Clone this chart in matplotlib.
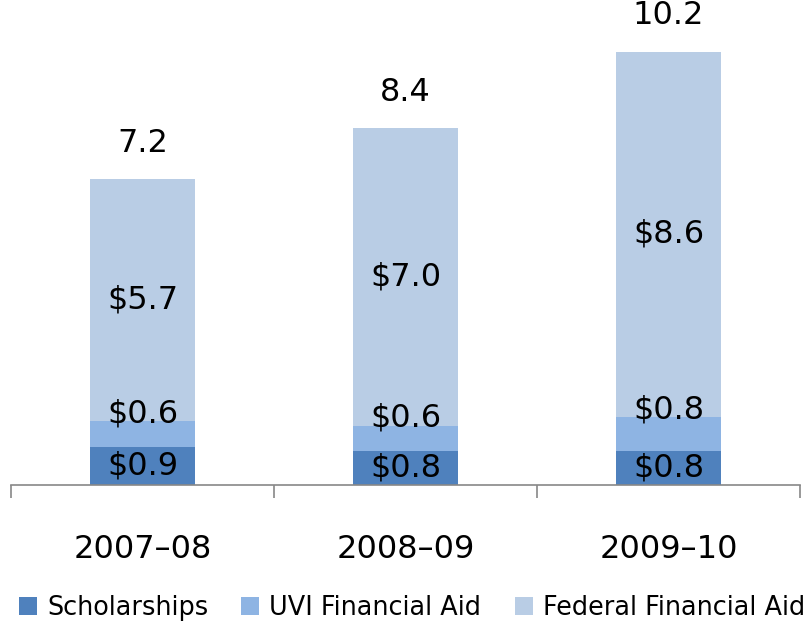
import numpy as np
import matplotlib.pyplot as plt

# aid by year, $ millions
years = ['2007–08', '2008–09', '2009–10']
scholarships = [0.9, 0.8, 0.8]
uvi_aid = [0.6, 0.6, 0.8]
federal_aid = [5.7, 7.0, 8.6]
totals = ['7.2', '8.4', '10.2']

series_names = ['Scholarships', 'UVI Financial Aid', 'Federal Financial Aid']
colors = ['#4F81BD', '#8EB4E3', '#B9CDE5']

fig = plt.figure(figsize=(8.11, 6.21), dpi=100)
ax = fig.add_axes([11 / 811, 136 / 621, 789 / 811, 485 / 621])

x = np.arange(len(years))
bottom = np.zeros(len(years))
for k, (vals, name, c) in enumerate(zip([scholarships, uvi_aid, federal_aid], series_names, colors)):
    vals = np.array(vals)
    ax.bar(x, vals, 0.4, bottom=bottom, color=c, label=name)
    for xi, b, v in zip(x, bottom, vals):
        # the small UVI labels sit on the top edge of their segment
        ypos = b + v + 0.17 if k == 1 else b + v / 2
        ax.text(xi, ypos, '${:.1f}'.format(v), ha='center', va='center',
                fontsize=23, color='black')
    bottom += vals

for xi, top, t in zip(x, bottom, totals):
    ax.text(xi, top + 0.84, t, ha='center', va='center', fontsize=23)

ax.set_xlim(-0.5, 2.5)
ax.set_ylim(0, 485 / 42.5)
ax.set_yticks([])
for s in ['top', 'left', 'right']:
    ax.spines[s].set_visible(False)
ax.spines['bottom'].set_color('#888888')
ax.spines['bottom'].set_linewidth(1.2)

ax.set_xticks(x)
ax.set_xticklabels(years, fontsize=23)
ax.tick_params(axis='x', which='major', length=0, pad=35)
ax.set_xticks([-0.5, 0.5, 1.5, 2.5], minor=True)
ax.tick_params(axis='x', which='minor', length=9, width=1.2, color='#888888', direction='out')

fig.legend(loc='lower center', bbox_to_anchor=(0.508, -0.016), ncol=3, frameon=False,
           fontsize=18.4, handlelength=0.7, handleheight=0.7, handletextpad=0.4,
           columnspacing=1.3, borderaxespad=0)

fig.savefig('out.png', dpi=100)
